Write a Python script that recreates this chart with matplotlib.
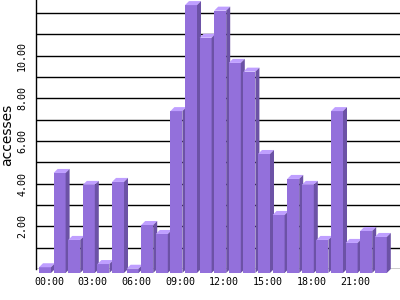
import matplotlib
matplotlib.use("Agg")
import matplotlib.pyplot as plt
from matplotlib.patches import Polygon, Rectangle

# 時間帯ごとのアクセス数 (平均)
hours = list(range(24))
accesses = [0.27, 4.69, 1.55, 4.13, 0.42, 4.27, 0.20, 2.25, 1.83, 7.59,
            12.56, 11.03, 12.30, 9.85, 9.44, 5.58, 2.72, 4.41, 4.13, 1.55,
            7.59, 1.41, 1.97, 1.69]
tick_hours = [0, 3, 6, 9, 12, 15, 18, 21]
tick_labels = ["%02d:00" % h for h in tick_hours]
y_labeled = [2, 4, 6, 8, 10]

front_col = "#9370db"
side_col = "#6c52a6"
top_col = "#bf9fff"

fig = plt.figure(figsize=(4, 3), dpi=100)
ax = fig.add_axes([35.5 / 400, 31 / 300, 364.5 / 400, 269 / 300])
ax.set_xlim(-0.925, -0.925 + 364.5 / 14.6)
ax.set_ylim(0, 269 / 21.33)

# 奥行き (ピクセル -> データ単位)
px_x = ax.bbox.width / (ax.get_xlim()[1] - ax.get_xlim()[0])
px_y = ax.bbox.height / (ax.get_ylim()[1] - ax.get_ylim()[0])
dx = 4 / px_x
dy = 4 / px_y
w = 12 / px_x

# グリッド
for g in range(0, 13):
    ax.axhline(g, color="black", lw=1.0, zorder=0.5)

# 3Dっぽい棒
for i, (h, v) in enumerate(zip(hours, accesses)):
    x0 = h - w / 2 - dx
    y0 = -dy
    z = 1 + i * 0.01
    ax.add_patch(Rectangle((x0, y0), w, v, facecolor=front_col,
                           edgecolor="none", clip_on=False, zorder=z))
    ax.add_patch(Polygon([(x0, y0 + v), (x0 + w, y0 + v),
                          (x0 + w + dx, v), (x0 + dx, v)],
                         facecolor=top_col, edgecolor="none",
                         clip_on=False, zorder=z))
    ax.add_patch(Polygon([(x0 + w, y0), (x0 + w, y0 + v),
                          (x0 + w + dx, v), (x0 + w + dx, 0)],
                         facecolor=side_col, edgecolor="none",
                         clip_on=False, zorder=z))

ax.set_xticks(tick_hours)
ax.set_xticklabels(tick_labels, family="DejaVu Sans Mono", fontsize=7.2)
ax.set_yticks(y_labeled)
ax.set_yticklabels(["%.2f" % y for y in y_labeled], family="DejaVu Sans Mono",
                   fontsize=7.2, rotation=90, va="center")
ax.tick_params(axis="both", length=0)
ax.tick_params(axis="x", pad=5.8)
ax.tick_params(axis="y", pad=6)

ax.set_ylabel("accesses", fontsize=10, labelpad=2)

ax.spines["top"].set_visible(False)
ax.spines["right"].set_visible(False)
ax.spines["bottom"].set_visible(False)
ax.spines["left"].set_linewidth(1.0)
ax.spines["left"].set_zorder(3)

fig.savefig("out.png", dpi=100)
